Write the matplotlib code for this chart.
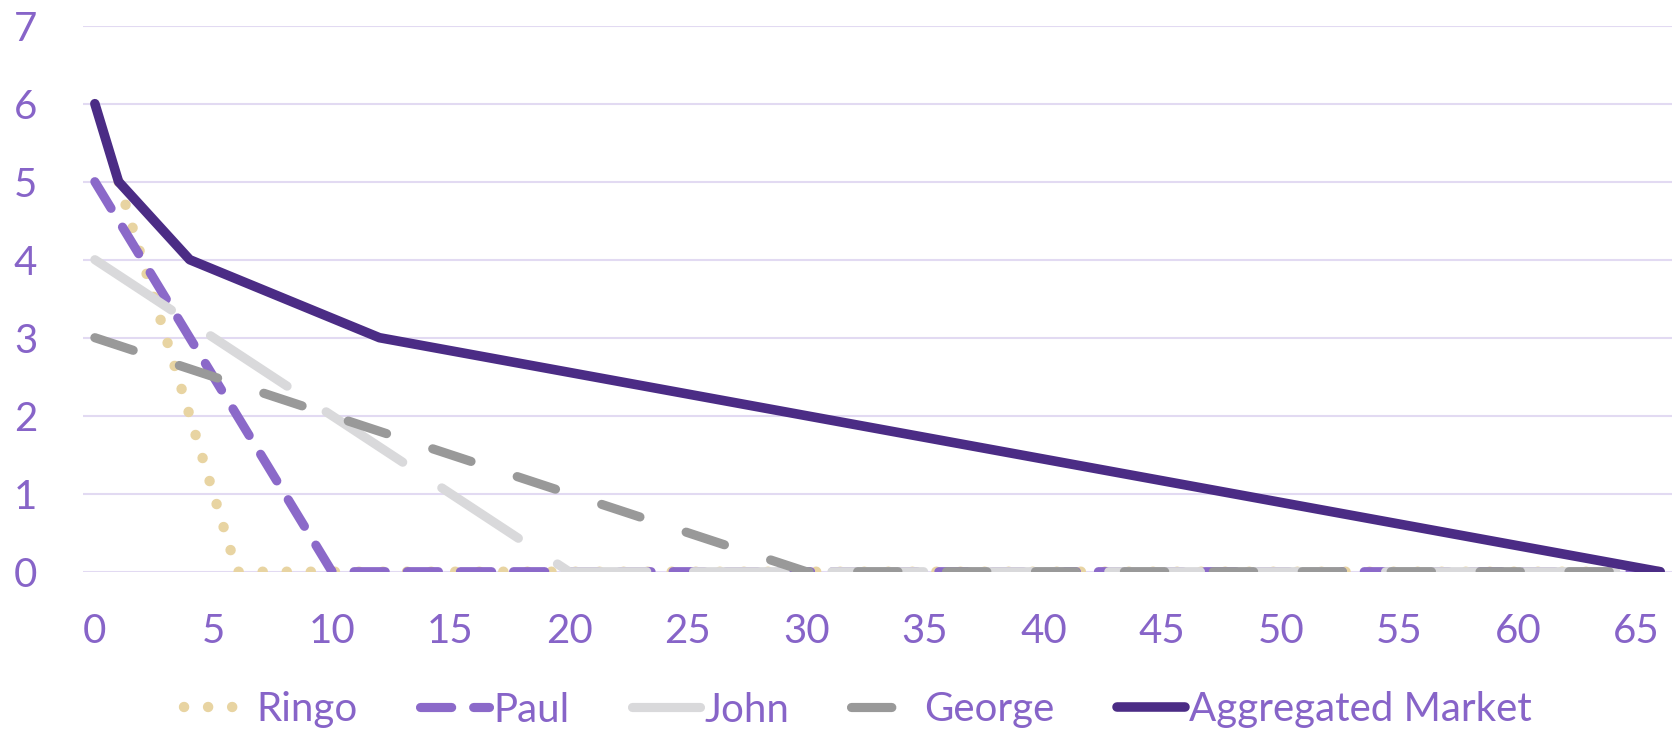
import matplotlib
matplotlib.use("Agg")
import matplotlib.pyplot as plt

plt.rcParams['font.family'] = ['Lato', 'DejaVu Sans']

# demand schedules: quantity (x) vs price (y)
ringo_q = [1, 6, 66]
ringo_p = [5, 0, 0]
paul_q = [0, 10, 66]
paul_p = [5, 0, 0]
john_q = [0, 20, 66]
john_p = [4, 0, 0]
george_q = [0, 30, 66]
george_p = [3, 0, 0]
market_q = [0, 1, 4, 12, 66]
market_p = [6, 5, 4, 3, 0]

x_ticks = list(range(0, 66, 5))
y_ticks = list(range(0, 8))

label_col = '#8764C8'
grid_col = '#E2DAF2'

fig = plt.figure(figsize=(16.77, 7.39), dpi=100)
ax = fig.add_axes([83 / 1677, 1 - 571.7 / 739, (1672 - 83) / 1677, (571.7 - 25.7) / 739])

lw = 6.6
ax.plot(ringo_q, ringo_p, color='#E8D4A2', lw=7.5, linestyle=(0, (0.01, 2.3)),
        dash_capstyle='round', solid_capstyle='round', label='Ringo')
ax.plot(paul_q, paul_p, color='#8B69C9', lw=lw, linestyle=(0, (3.4, 2.4)),
        dash_capstyle='round', label='Paul')
ax.plot(john_q, john_p, color='#D9D9DB', lw=lw, linestyle=(0, (10, 5.1)),
        dash_capstyle='round', label='John')
ax.plot(george_q, george_p, color='#999999', lw=lw, linestyle=(0, (4.4, 5.3)),
        dash_capstyle='round', label='George')
ax.plot(market_q, market_p, color='#4B2C85', lw=lw + 0.3, solid_capstyle='round',
        solid_joinstyle='round', label='Aggregated Market')

ax.set_xlim(-0.5, 66.5)
ax.set_ylim(0, 7)
ax.set_xticks(x_ticks)
ax.set_yticks(y_ticks)
ax.grid(axis='y', color=grid_col, lw=1.5)
ax.set_axisbelow(True)
for s in ax.spines.values():
    s.set_visible(False)
ax.tick_params(length=0, labelsize=29, labelcolor=label_col)
ax.tick_params(axis='y', pad=33)
ax.tick_params(axis='x', pad=30)

leg = fig.legend(loc='center', bbox_to_anchor=(858 / 1677, 1 - 710 / 739), ncol=5,
                 frameon=False, fontsize=29, handlelength=1.7, handletextpad=0.1,
                 columnspacing=1.55, labelcolor=label_col)

fig.savefig('out.png', dpi=100)
